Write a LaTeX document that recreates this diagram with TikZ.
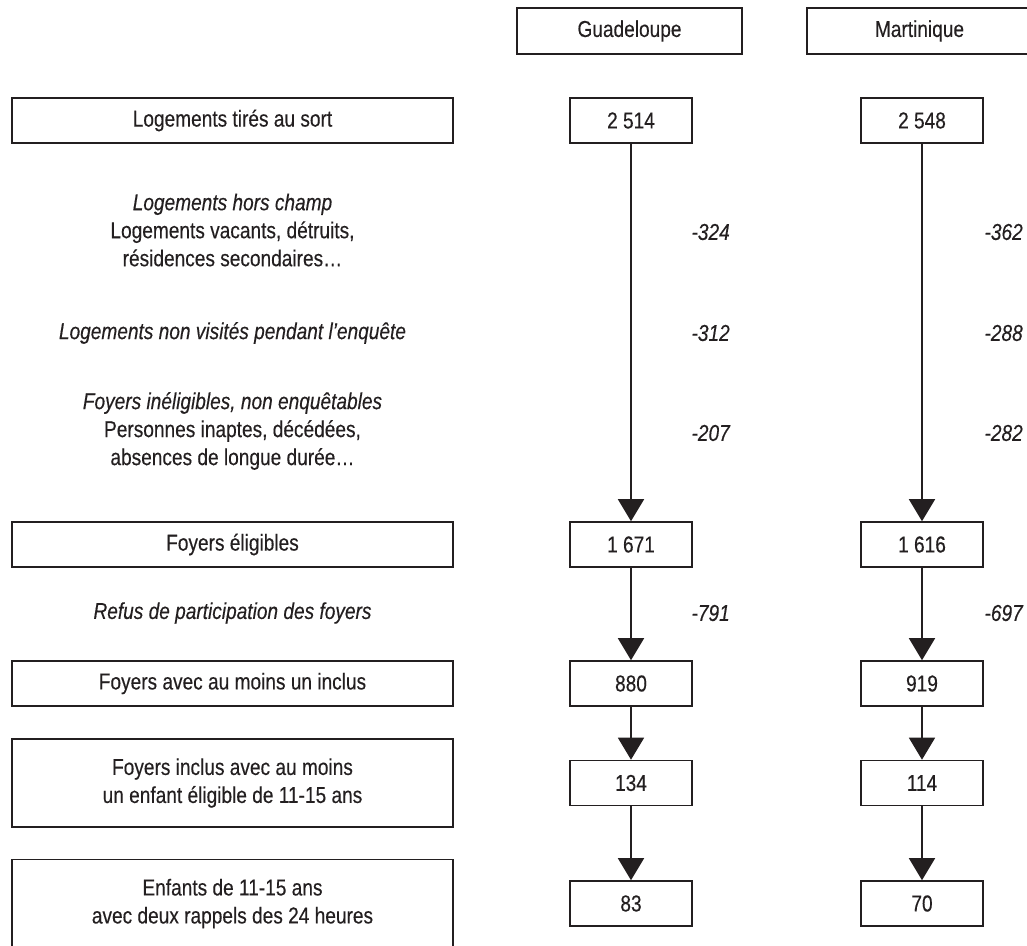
\documentclass[tikz,border=0pt]{standalone}
\usepackage{fontspec}
\setmainfont{Liberation Sans}[FakeStretch=0.83,FakeBold=0.3]
\usetikzlibrary{arrows.meta}
\definecolor{ink}{HTML}{231F20}
\begin{document}
\begin{tikzpicture}[x=1pt,y=-1pt,
  every node/.style={text=ink, font=\fontsize{23}{28}\selectfont},
  box/.style={draw=ink, line width=1.6pt, rectangle, inner sep=0pt, minimum height=45pt, align=center},
  wide/.style={box, minimum width=441pt},
  num/.style={box, minimum width=122pt},
  tall/.style={wide, minimum height=88pt},
  note/.style={align=center},
  delta/.style={anchor=west, font=\fontsize{23}{28}\selectfont\itshape},
  flow/.style={draw=ink, line width=1.6pt, -{Triangle[width=26pt,length=22pt]}}]
\useasboundingbox (0,0) rectangle (1027,945);
\clip (0,0) rectangle (1027,945);

% column headings
\node[box, minimum width=225pt, minimum height=46pt] (gua) at (629.5,31) {Guadeloupe};
\node[box, minimum width=225pt, minimum height=46pt] (mar) at (919.5,31) {Martinique};

% row 1
\node[wide] (l1) at (232.5,120.5) {Logements tirés au sort};
\node[num] (g1) at (631,120.5) {2 514};
\node[num] (m1) at (922,120.5) {2 548};

% exclusions
\node[note] (n1) at (232.5,230) {\itshape Logements hors champ\\Logements vacants, détruits,\\résidences secondaires…};
\node[note] (n2) at (232.5,333) {\itshape Logements non visités pendant l’enquête};
\node[note] (n3) at (232.5,431) {\itshape Foyers inéligibles, non enquêtables\\Personnes inaptes, décédées,\\absences de longue durée…};
\node[delta] (d1g) at (688,232) {-324};
\node[delta] (d1m) at (981,232) {-362};
\node[delta] (d2g) at (688,333) {-312};
\node[delta] (d2m) at (981,333) {-288};
\node[delta] (d3g) at (688,433) {-207};
\node[delta] (d3m) at (981,433) {-282};

% row 2
\node[wide] (l2) at (232.5,544.5) {Foyers éligibles};
\node[num] (g2) at (631,544.5) {1 671};
\node[num] (m2) at (922,544.5) {1 616};

\node[note] (n4) at (232.5,613) {\itshape Refus de participation des foyers};
\node[delta] (d4g) at (688,613) {-791};
\node[delta] (d4m) at (981,613) {-697};

% row 3
\node[wide] (l3) at (232.5,683.5) {Foyers avec au moins un inclus};
\node[num] (g3) at (631,683.5) {880};
\node[num] (m3) at (922,683.5) {919};

% row 4
\node[tall] (l4) at (232.5,783) {Foyers inclus avec au moins\\un enfant éligible de 11-15 ans};
\node[num] (g4) at (631,783) {134};
\node[num] (m4) at (922,783) {114};

% row 5
\node[tall] (l5) at (232.5,903.5) {Enfants de 11-15 ans\\avec deux rappels des 24 heures};
\node[num] (g5) at (631,903.5) {83};
\node[num] (m5) at (922,903.5) {70};

% connectors
\draw[flow] (g1) -- (g2);
\draw[flow] (g2) -- (g3);
\draw[flow] (g3) -- (g4);
\draw[flow] (g4) -- (g5);
\draw[flow] (m1) -- (m2);
\draw[flow] (m2) -- (m3);
\draw[flow] (m3) -- (m4);
\draw[flow] (m4) -- (m5);
\end{tikzpicture}
\end{document}
